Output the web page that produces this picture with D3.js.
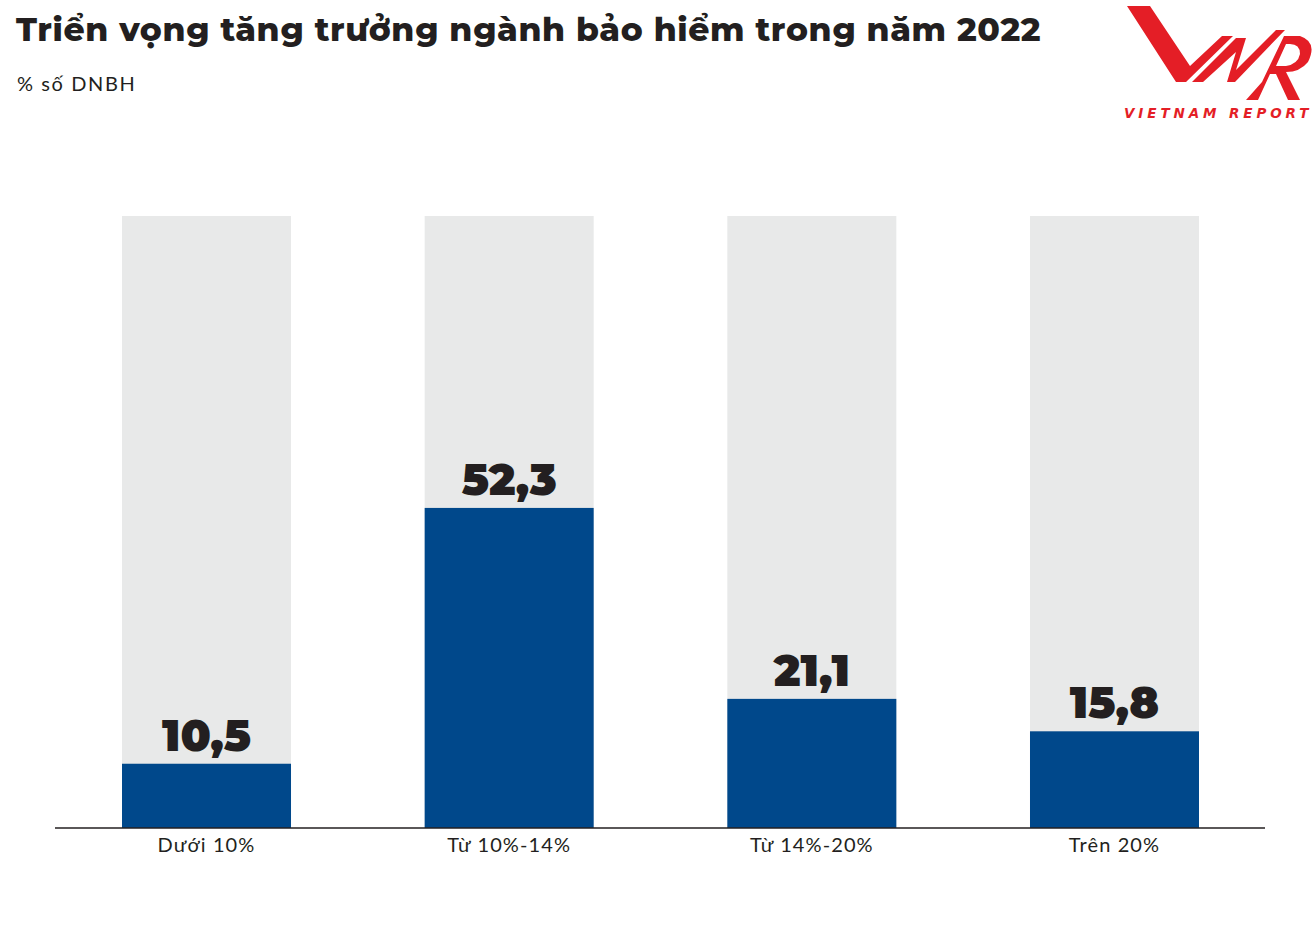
<!DOCTYPE html>
<html><head><meta charset="utf-8">
<script src="https://cdn.jsdelivr.net/npm/d3@7"></script>
<style>body{margin:0;background:#fff}svg{display:block}</style>
</head><body>
<div id="chart"></div>
<script>
var categories = ["Dưới 10%", "Từ 10%-14%", "Từ 14%-20%", "Trên 20%"];
var values = [10.5, 52.3, 21.1, 15.8];
var labels = ["10,5", "52,3", "21,1", "15,8"];

var W = 1316, H = 931;
var svg = d3.select("#chart").append("svg").attr("width", W).attr("height", H);

svg.append("text").attr("x", 16).attr("y", 41)
    .style("font-family", "Montserrat, Lato, 'Open Sans', sans-serif").style("font-weight", 800)
    .style("font-size", "33px").style("letter-spacing", "0.65px").attr("fill", "#231f20")
    .text("Triển vọng tăng trưởng ngành bảo hiểm trong năm 2022");
svg.append("text").attr("x", 17).attr("y", 91)
    .style("font-family", "Lato, sans-serif").style("font-size", "20px").style("letter-spacing", "1.6px").attr("fill", "#231f20")
    .text("% số DNBH");

// logo
var logo = svg.append("g").attr("fill", "#e41e26");
logo.append("path").attr("d", "M1127,6 L1150,6 L1190,66 L1222,36 L1233,36 L1186,82 L1176,82 Z");
logo.append("path").attr("d", "M1192,82 L1236,38 L1246,38 L1236,70 L1276,30 L1285,30 L1235,82 L1227,82 L1236,52 L1203,82 Z");
logo.append("path").attr("d", "M1262,82 L1284,36 L1300,36 Q1318,42 1308,62 Q1300,72 1286,72 L1300,100 L1288,100 L1276,74 L1270,74 L1258,100 L1246,100 Z M1276,66 L1286,66 Q1298,64 1300,54 Q1300,44 1290,44 L1286,44 Z").attr("fill-rule","evenodd");
svg.append("text").attr("x", 1124).attr("y", 118)
    .style("font-family", "'DejaVu Sans', sans-serif").style("font-weight", "bold").style("font-style", "italic")
    .style("font-size", "13.5px").style("letter-spacing", "3.9px").attr("fill", "#e41e26")
    .text("VIETNAM REPORT");

var x = d3.scaleBand().domain(categories).range([122, 1199]).paddingInner(0.4416).paddingOuter(0);
var y = d3.scaleLinear().domain([0, 100]).range([828, 216]);

var g = svg.append("g");
g.selectAll("rect.bg").data(categories).join("rect").attr("class", "bg")
    .attr("x", d => x(d)).attr("width", x.bandwidth())
    .attr("y", y(100)).attr("height", y(0) - y(100)).attr("fill", "#e8e9e9");
g.selectAll("rect.bar").data(values).join("rect").attr("class", "bar")
    .attr("x", (d, i) => x(categories[i])).attr("width", x.bandwidth())
    .attr("y", d => y(d)).attr("height", d => y(0) - y(d)).attr("fill", "#00488b");
g.selectAll("text.val").data(values).join("text").attr("class", "val")
    .attr("x", (d, i) => x(categories[i]) + x.bandwidth() / 2).attr("y", d => y(d) - 13)
    .attr("text-anchor", "middle")
    .style("font-family", "Montserrat, Lato, sans-serif").style("font-weight", 900).style("font-size", "44px")
    .attr("fill", "#231f20").text((d, i) => labels[i]);

var axis = svg.append("g").attr("transform", "translate(0,828)")
    .call(d3.axisBottom(x).tickSize(0).tickPadding(10));
axis.select(".domain").remove();
axis.append("line").attr("x1", 55).attr("x2", 1265).attr("stroke", "#231f20").attr("stroke-width", 1.5);
axis.selectAll("text").style("font-family", "Lato, sans-serif").style("font-size", "20px")
    .style("letter-spacing", "1.1px").attr("fill", "#231f20");
</script>
</body></html>
